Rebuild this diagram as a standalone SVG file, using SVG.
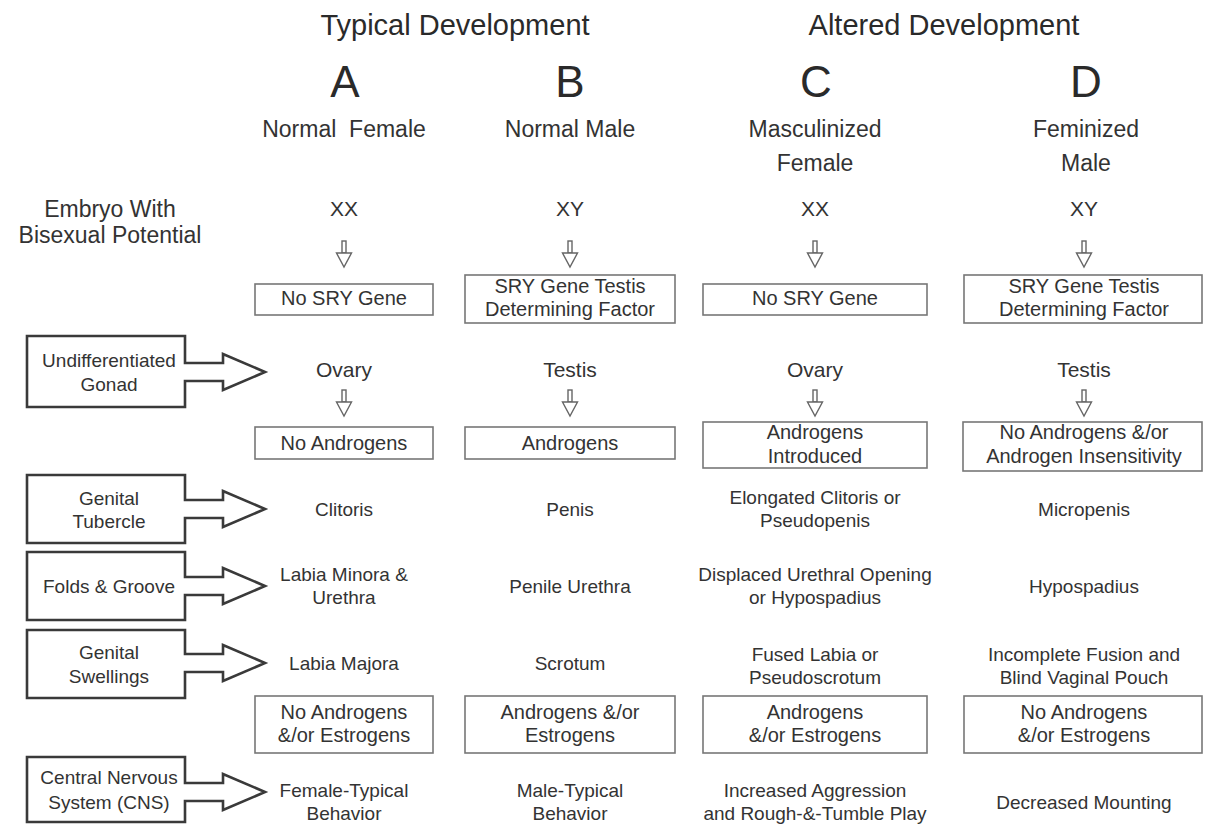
<svg xmlns="http://www.w3.org/2000/svg" xmlns:xlink="http://www.w3.org/1999/xlink" width="1206" height="825" viewBox="0 0 1206 825">
<style>
text{font-family:"Liberation Sans",Arial,sans-serif;fill:#333;text-anchor:middle}
.h{font-size:29px;fill:#2a2a2a}
.L{font-size:44px;fill:#2a2a2a}
.s{font-size:23px}
.x{font-size:21px}
.t{font-size:19px}
.b{font-size:20px}
.l{font-size:19px}
.box{fill:#fff;stroke:#777;stroke-width:1.6}
.la{fill:#fff;stroke:#3a3a3a;stroke-width:2.6;stroke-linejoin:miter}
.da{fill:#fff;stroke:#666;stroke-width:1.4}
</style>
<defs>
<g id="darr"><rect class="da" x="-2" y="0" width="4" height="12"/><polygon class="da" points="-7.5,12 7.5,12 0,26"/></g>
</defs>
<rect width="1206" height="825" fill="#fff"/>

<g id="headers">
<text class="h" x="455" y="35">Typical Development</text>
<text class="h" x="944" y="35">Altered Development</text>
<text class="L" x="345" y="97">A</text>
<text class="L" x="570" y="97">B</text>
<text class="L" x="816" y="97">C</text>
<text class="L" x="1086" y="97">D</text>
<text class="s" x="344" y="137" xml:space="preserve">Normal  Female</text>
<text class="s" x="570" y="137">Normal Male</text>
<text class="s" x="815" y="137">Masculinized</text>
<text class="s" x="815" y="171">Female</text>
<text class="s" x="1086" y="137">Feminized</text>
<text class="s" x="1086" y="171">Male</text>
</g>

<g id="embryo">
<text class="s" x="110" y="217">Embryo With</text>
<text class="s" x="110" y="243">Bisexual Potential</text>
</g>

<g id="left-labels">
<g id="gonad"><path class="la" d="M27,336 H185 V363 H223 V354 L265,372 L223,390 V381 H185 V407 H27 Z"/><text class="l" x="109" y="367">Undifferentiated</text><text class="l" x="109" y="391">Gonad</text></g>
<g id="tubercle"><path class="la" d="M27,475 H185 V500 H223 V491 L265,509 L223,527 V518 H185 V543 H27 Z"/><text class="l" x="109" y="505">Genital</text><text class="l" x="109" y="528">Tubercle</text></g>
<g id="folds"><path class="la" d="M27,552 H185 V577 H223 V568 L265,586 L223,604 V595 H185 V620 H27 Z"/><text class="l" x="109" y="593">Folds &amp; Groove</text></g>
<g id="swellings"><path class="la" d="M27,630 H185 V654 H223 V645 L265,663 L223,681 V672 H185 V698 H27 Z"/><text class="l" x="109" y="659">Genital</text><text class="l" x="109" y="683">Swellings</text></g>
<g id="cns"><path class="la" d="M27,757 H185 V783 H223 V774 L265,792 L223,810 V801 H185 V822 H27 Z"/><text class="l" x="109" y="784">Central Nervous</text><text class="l" x="109" y="809">System (CNS)</text></g>
</g>

<g id="connectors">
<use xlink:href="#darr" transform="translate(344,241)"/>
<use xlink:href="#darr" transform="translate(570,241)"/>
<use xlink:href="#darr" transform="translate(815,241)"/>
<use xlink:href="#darr" transform="translate(1084,241)"/>
<use xlink:href="#darr" transform="translate(344,390)"/>
<use xlink:href="#darr" transform="translate(570,390)"/>
<use xlink:href="#darr" transform="translate(815,390)"/>
<use xlink:href="#darr" transform="translate(1084,390)"/>
</g>

<g id="colA">
<text class="x" x="344" y="216">XX</text>
<rect class="box" x="255" y="284" width="178" height="31"/>
<text class="b" x="344" y="305">No SRY Gene</text>
<text class="x" x="344" y="377">Ovary</text>
<rect class="box" x="255" y="427" width="178" height="32"/>
<text class="b" x="344" y="450">No Androgens</text>
<text class="t" x="344" y="516">Clitoris</text>
<text class="t" x="344" y="581">Labia Minora &amp;</text>
<text class="t" x="344" y="604">Urethra</text>
<text class="t" x="344" y="670">Labia Majora</text>
<rect class="box" x="255" y="696" width="178" height="57"/>
<text class="b" x="344" y="719">No Androgens</text>
<text class="b" x="344" y="742">&amp;/or Estrogens</text>
<text class="t" x="344" y="797">Female-Typical</text>
<text class="t" x="344" y="820">Behavior</text>
</g>

<g id="colB">
<text class="x" x="570" y="216">XY</text>
<rect class="box" x="465" y="275" width="210" height="48"/>
<text class="b" x="570" y="293">SRY Gene Testis</text>
<text class="b" x="570" y="316">Determining Factor</text>
<text class="x" x="570" y="377">Testis</text>
<rect class="box" x="465" y="427" width="210" height="32"/>
<text class="b" x="570" y="450">Androgens</text>
<text class="t" x="570" y="516">Penis</text>
<text class="t" x="570" y="593">Penile Urethra</text>
<text class="t" x="570" y="670">Scrotum</text>
<rect class="box" x="465" y="696" width="210" height="57"/>
<text class="b" x="570" y="719">Androgens &amp;/or</text>
<text class="b" x="570" y="742">Estrogens</text>
<text class="t" x="570" y="797">Male-Typical</text>
<text class="t" x="570" y="820">Behavior</text>
</g>

<g id="colC">
<text class="x" x="815" y="216">XX</text>
<rect class="box" x="703" y="284" width="224" height="31"/>
<text class="b" x="815" y="305">No SRY Gene</text>
<text class="x" x="815" y="377">Ovary</text>
<rect class="box" x="703" y="422" width="224" height="46"/>
<text class="b" x="815" y="439">Androgens</text>
<text class="b" x="815" y="463">Introduced</text>
<text class="t" x="815" y="504">Elongated Clitoris or</text>
<text class="t" x="815" y="527">Pseudopenis</text>
<text class="t" x="815" y="581">Displaced Urethral Opening</text>
<text class="t" x="815" y="604">or Hypospadius</text>
<text class="t" x="815" y="661">Fused Labia or</text>
<text class="t" x="815" y="684">Pseudoscrotum</text>
<rect class="box" x="703" y="696" width="224" height="57"/>
<text class="b" x="815" y="719">Androgens</text>
<text class="b" x="815" y="742">&amp;/or Estrogens</text>
<text class="t" x="815" y="797">Increased Aggression</text>
<text class="t" x="815" y="820">and Rough-&amp;-Tumble Play</text>
</g>

<g id="colD">
<text class="x" x="1084" y="216">XY</text>
<rect class="box" x="964" y="275" width="238" height="48"/>
<text class="b" x="1084" y="293">SRY Gene Testis</text>
<text class="b" x="1084" y="316">Determining Factor</text>
<text class="x" x="1084" y="377">Testis</text>
<rect class="box" x="963" y="422" width="239" height="49"/>
<text class="b" x="1084" y="439">No Androgens &amp;/or</text>
<text class="b" x="1084" y="463">Androgen Insensitivity</text>
<text class="t" x="1084" y="516">Micropenis</text>
<text class="t" x="1084" y="593">Hypospadius</text>
<text class="t" x="1084" y="661">Incomplete Fusion and</text>
<text class="t" x="1084" y="684">Blind Vaginal Pouch</text>
<rect class="box" x="964" y="696" width="238" height="57"/>
<text class="b" x="1084" y="719">No Androgens</text>
<text class="b" x="1084" y="742">&amp;/or Estrogens</text>
<text class="t" x="1084" y="809">Decreased Mounting</text>
</g>
</svg>
